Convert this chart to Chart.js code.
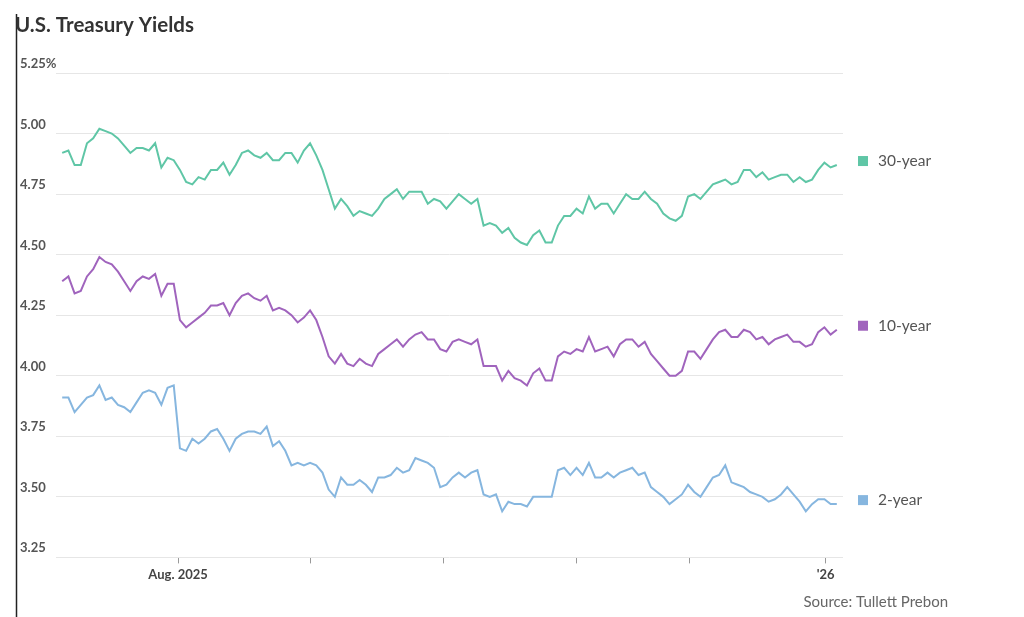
<!DOCTYPE html>
<html><head><meta charset="utf-8">
<script src="https://cdn.jsdelivr.net/npm/chart.js@4"></script>
<style>html,body{margin:0;padding:0;background:#fff}#w{position:relative;width:1024px;height:617px}</style>
</head><body><div id="w"><canvas id="c" width="1024" height="617"></canvas></div>
<script>
const title = "U.S. Treasury Yields";
const source = "Source: Tullett Prebon";
const seriesNames = ["30-year","10-year","2-year"];
const yTicks = [3.25,3.5,3.75,4.0,4.25,4.5,4.75,5.0,5.25];
const monthTickIdx = [18.7,40,61.5,83,101.3,123.2];
const monthTickLabels = ["Aug. 2025","","","","","'26"];
const y30 = [4.92,4.93,4.87,4.87,4.96,4.98,5.02,5.01,5.00,4.98,4.95,4.92,4.94,4.94,4.93,4.96,4.86,4.90,4.89,4.85,4.80,4.79,4.82,4.81,4.85,4.85,4.88,4.83,4.87,4.92,4.93,4.91,4.90,4.92,4.89,4.89,4.92,4.92,4.88,4.93,4.96,4.91,4.85,4.77,4.69,4.73,4.70,4.66,4.68,4.67,4.66,4.69,4.73,4.75,4.77,4.73,4.76,4.76,4.76,4.71,4.73,4.72,4.69,
4.72,4.75,4.73,4.71,4.73,4.62,4.63,4.62,4.59,4.61,4.57,4.55,4.54,4.58,4.60,4.55,4.55,4.62,4.66,4.66,4.69,4.67,4.74,4.69,4.71,4.71,4.67,4.71,4.75,4.73,4.73,4.76,4.73,4.71,4.67,4.65,4.64,4.66,4.74,4.75,4.73,4.76,4.79,4.80,4.81,4.79,4.80,4.85,4.85,4.82,4.84,4.81,4.82,4.83,4.83,4.80,4.82,4.80,4.81,4.85,4.88,4.86,4.87];
const y10 = [4.39,4.41,4.34,4.35,4.41,4.44,4.49,4.47,4.46,4.43,4.39,4.35,4.39,4.41,4.40,4.42,4.33,4.38,4.38,4.23,4.20,4.22,4.24,4.26,4.29,4.29,4.30,4.25,4.30,4.33,4.34,4.32,4.31,4.33,4.27,4.28,4.27,4.25,4.22,4.24,4.27,4.23,4.16,4.08,4.05,4.09,4.05,4.04,4.07,4.05,4.04,4.09,4.11,4.13,4.15,4.12,4.15,4.17,4.18,4.15,4.15,4.11,4.10,
4.14,4.15,4.14,4.13,4.15,4.04,4.04,4.04,3.98,4.02,3.99,3.98,3.96,4.01,4.03,3.98,3.98,4.08,4.10,4.09,4.11,4.10,4.16,4.10,4.11,4.12,4.08,4.13,4.15,4.15,4.12,4.14,4.09,4.06,4.03,4.00,4.00,4.02,4.10,4.10,4.07,4.11,4.15,4.18,4.19,4.16,4.16,4.19,4.18,4.15,4.16,4.13,4.15,4.16,4.17,4.14,4.14,4.12,4.13,4.18,4.20,4.17,4.19];
const y2 = [3.91,3.91,3.85,3.88,3.91,3.92,3.96,3.90,3.91,3.88,3.87,3.85,3.89,3.93,3.94,3.93,3.88,3.95,3.96,3.70,3.69,3.74,3.72,3.74,3.77,3.78,3.74,3.69,3.74,3.76,3.77,3.77,3.76,3.79,3.71,3.73,3.69,3.63,3.64,3.63,3.64,3.63,3.60,3.53,3.50,3.58,3.55,3.55,3.57,3.55,3.52,3.58,3.58,3.59,3.62,3.60,3.61,3.66,3.65,3.64,3.62,3.54,3.55,
3.58,3.60,3.58,3.60,3.61,3.51,3.50,3.51,3.44,3.48,3.47,3.47,3.46,3.50,3.50,3.50,3.50,3.61,3.62,3.59,3.62,3.59,3.64,3.58,3.58,3.60,3.58,3.60,3.61,3.62,3.59,3.60,3.54,3.52,3.50,3.47,3.49,3.51,3.55,3.52,3.50,3.54,3.58,3.59,3.63,3.56,3.55,3.54,3.52,3.51,3.50,3.48,3.49,3.51,3.54,3.51,3.48,3.44,3.47,3.49,3.49,3.47,3.47];
const colors = ["#5fc6a6","#a064bd","#86b6df"];
const allY=[y30,y10,y2];
const datasets = allY.map((arr,k)=>({label:seriesNames[k],data:arr.map((v,i)=>({x:i,y:v})),borderColor:colors[k],borderWidth:2,pointRadius:0,tension:0,fill:false}));
const FONT="Lato, 'Open Sans', sans-serif";
const deco={id:'deco',afterDraw(ch){
  const c=ch.ctx,a=ch.chartArea,y=ch.scales.y;
  c.save();
  c.strokeStyle='#222';c.lineWidth=1.5;c.beginPath();c.moveTo(16.5,14);c.lineTo(16.5,617);c.stroke();
  c.fillStyle='#333';c.font='bold 20.5px '+FONT;c.textBaseline='alphabetic';c.textAlign='left';c.fillText(title,15,32);
  c.font='bold 13px '+FONT;c.fillStyle='#555';
  yTicks.forEach(t=>{const py=y.getPixelForValue(t);c.fillText(t===5.25?'5.25%':t.toFixed(2),20,py-5);});
  c.font='15.5px '+FONT;
  allY.forEach((arr,k)=>{const py=y.getPixelForValue(arr[arr.length-1])-4;c.fillStyle=colors[k];c.fillRect(858,py-5,10,10);c.fillStyle='#555';c.fillText(seriesNames[k],878,py+5);});
  c.font='15px '+FONT;c.fillStyle='#666';c.textAlign='right';c.fillText(source,948,607);
  c.restore();}};
new Chart(document.getElementById('c'),{type:'line',data:{datasets},
options:{responsive:false,animation:false,layout:{padding:{left:56,right:181,top:73,bottom:30}},
plugins:{legend:{display:false},tooltip:{enabled:false}},
scales:{
 x:{type:'linear',min:-1,max:126,afterBuildTicks(s){s.ticks=monthTickIdx.map(v=>({value:v}));},
   ticks:{autoSkip:false,maxRotation:0,color:'#444',font:{family:FONT,size:13,weight:'bold'},padding:4,callback:(v,i)=>monthTickLabels[i]},
   grid:{drawOnChartArea:false,tickLength:6,color:'#999'},border:{display:false}},
 y:{min:3.25,max:5.25,afterBuildTicks(s){s.ticks=yTicks.map(v=>({value:v}));},ticks:{display:false},
   grid:{color:'#e6e6e6',lineWidth:1,drawTicks:false},border:{display:false}}
}},plugins:[deco]});
</script></body></html>
